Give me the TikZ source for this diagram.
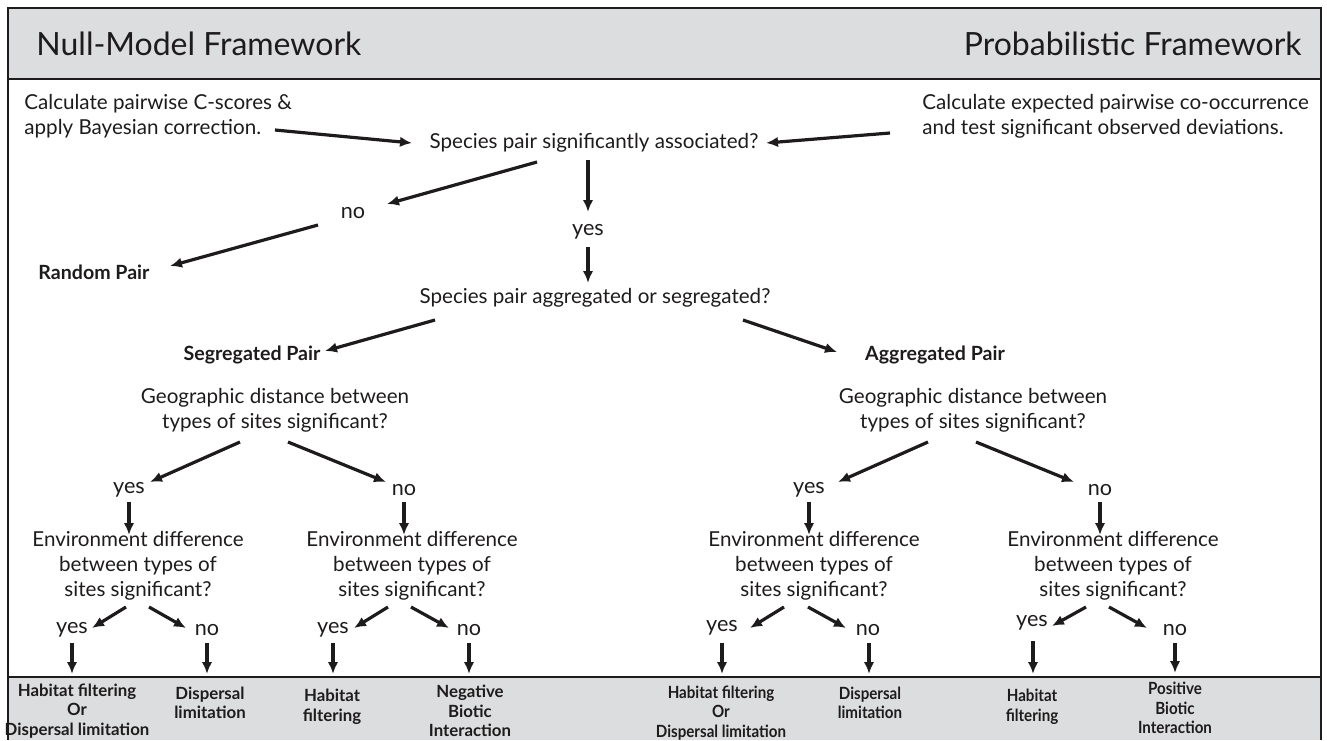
\documentclass[tikz,border=0pt]{standalone}
\usepackage{fontspec}
\setmainfont{Lato}
\usetikzlibrary{arrows.meta,calc,positioning}
\definecolor{bandgray}{RGB}{220,221,222}
\definecolor{inkgray}{RGB}{30,27,28}
\tikzset {
    style H/.style={
        font=\fontsize{16}{19}\selectfont,
        text=inkgray,
        inner sep=0pt,
    },
    style T/.style={
        font=\fontsize{10.3}{12.5}\selectfont,
        text=inkgray,
        align=center,
        inner sep=0pt,
    },
    style L/.style={
        font=\fontsize{10.8}{12}\selectfont,
        text=inkgray,
        inner sep=0pt,
    },
    style P/.style={
        font=\fontsize{9.8}{11}\selectfont\bfseries,
        text=inkgray,
        inner sep=0pt,
    },
    style R/.style={
        font=\fontsize{8.4}{9.8}\selectfont\bfseries,
        text=inkgray,
        align=center,
        inner sep=0pt,
    },
    link/.style={
        draw=inkgray,
        line width=1.6pt,
        -{Latex[length=6pt,width=5.2pt]},
    },
}
\begin{document}
\begin{tikzpicture}[x=0.5pt, y=-0.5pt]
\useasboundingbox (0,0) rectangle (1327,740);

% frame and bands
\fill[bandgray] (8,8) rectangle (1321,79);
\fill[bandgray] (8,677) rectangle (1321,740);
\draw[inkgray, line width=0.8pt] (8,79) -- (1321,79);
\draw[inkgray, line width=0.8pt] (8,677) -- (1321,677);
\draw[inkgray, line width=1pt] (8,740) -- (8,8) -- (1321,8) -- (1321,740);

\node[style H, anchor=west] at (36,44) (hdrL) {Null-Model Framework};
\node[style H, anchor=east] at (1302,44) (hdrR) {Probabilistic Framework};

% top of the tree
\node[style T, anchor=west, align=left] at (24,116) (calcC) {Calculate pairwise C-scores \&\\apply Bayesian correction.};
\node[style T, anchor=west, align=left] at (922,116) (calcP) {Calculate expected pairwise co-occurrence\\and test significant observed deviations.};
\node[style T] at (594,143) (sigq) {Species pair significantly associated?};
\node[style L] at (353,213) (noA) {no};
\node[style L] at (588,232) (yesA) {yes};
\node[style P, anchor=west] at (38,272) (rand) {Random Pair};
\node[style T] at (595,298) (aggq) {Species pair aggregated or segregated?};
\node[style P] at (252,355) (segP) {Segregated Pair};
\node[style P] at (935,355) (aggP) {Aggregated Pair};

\draw[link] ($(calcC.west)+(251,14)$) -- ($(sigq)+(-182,0)$);
\draw[link] ($(calcP.west)+(-32,17)$) -- ($(sigq)+(172,0)$);
\draw[link] ($(sigq)+(-57,19)$) -- ($(noA)+(34,-9)$);
\draw[link] ($(sigq)+(-6,17)$) -- ($(yesA)+(0,-20)$);
\draw[link] ($(noA)+(-35,12)$) -- ($(rand.west)+(132,-6)$);
\draw[link] ($(yesA)+(0,15)$) -- ($(aggq)+(-7,-15)$);
\draw[link] ($(aggq)+(-160,22)$) -- ($(segP)+(73,-4)$);
\draw[link] ($(aggq)+(148,22)$) -- ($(aggP)+(-98,-3)$);

% segregated side
\node[style T] at (275,410) (geoS) {Geographic distance between\\types of sites significant?};
\node[style L] at (129,490) (ysS) {yes};
\node[style L] at (404,490) (nS) {no};
\node[style T] at (138,566) (envSY) {Environment difference\\between types of\\sites significant?};
\node[style T] at (412,566) (envSN) {Environment difference\\between types of\\sites significant?};
\node[style L] at (72,630) (y1) {yes};
\node[style L] at (207,630) (n1) {no};
\node[style L] at (333,630) (y2) {yes};
\node[style L] at (469,630) (n2) {no};
\node[style R] at (77,711) (r1) {Habitat filtering\\Or\\Dispersal limitation};
\node[style R] at (210,703) (r2) {Dispersal\\limitation};
\node[style R] at (332,707) (r3) {Habitat\\filtering};
\node[style R] at (470,711) (r4) {Negative\\Biotic\\Interaction};

\draw[link] ($(geoS)+(-35,32)$) -- ($(ysS)+(21,-8)$);
\draw[link] ($(geoS)+(13,32)$) -- ($(nS)+(-18,-8)$);
\draw[link] ($(ysS)+(0,12)$) -- ($(envSY)+(-9,-31)$);
\draw[link] ($(nS)+(0,12)$) -- ($(envSN)+(-8,-31)$);
\draw[link] ($(envSY)+(-12,41)$) -- ($(y1)+(20,-2)$);
\draw[link] ($(envSY)+(11,41)$) -- ($(n1)+(-21,-2)$);
\draw[link] ($(envSN)+(-24,41)$) -- ($(y2)+(21,-2)$);
\draw[link] ($(envSN)+(-1,41)$) -- ($(n2)+(-20,-2)$);
\draw[link] ($(y1)+(0,13)$) -- ($(r1)+(-5,-37)$);
\draw[link] ($(n1)+(0,13)$) -- ($(r2)+(-3,-29)$);
\draw[link] ($(y2)+(0,13)$) -- ($(r3)+(1,-33)$);
\draw[link] ($(n2)+(0,13)$) -- ($(r4)+(-1,-37)$);

% aggregated side
\node[style T] at (973,410) (geoA) {Geographic distance between\\types of sites significant?};
\node[style L] at (809,490) (ysA) {yes};
\node[style L] at (1100,490) (nA) {no};
\node[style T] at (814,566) (envAY) {Environment difference\\between types of\\sites significant?};
\node[style T] at (1113,566) (envAN) {Environment difference\\between types of\\sites significant?};
\node[style L] at (722,628) (y3) {yes};
\node[style L] at (868,630) (n3) {no};
\node[style L] at (1032,623) (y4) {yes};
\node[style L] at (1175,630) (n4) {no};
\node[style R, xscale=0.9, transform shape] at (721,713) (r5) {Habitat filtering\\Or\\Dispersal limitation};
\node[style R, xscale=0.9, transform shape] at (870,703) (r6) {Dispersal\\limitation};
\node[style R, xscale=0.9, transform shape] at (1032,707) (r7) {Habitat\\filtering};
\node[style R, xscale=0.9, transform shape] at (1175,708) (r8) {Positive\\Biotic\\Interaction};

\draw[link] ($(geoA)+(-45,32)$) -- ($(ysA)+(29,-8)$);
\draw[link] ($(geoA)+(3,32)$) -- ($(nA)+(-26,-8)$);
\draw[link] ($(ysA)+(0,12)$) -- ($(envAY)+(-5,-31)$);
\draw[link] ($(nA)+(0,12)$) -- ($(envAN)+(-13,-31)$);
\draw[link] ($(envAY)+(-30,41)$) -- ($(y3)+(28,0)$);
\draw[link] ($(envAY)+(-6,41)$) -- ($(n3)+(-22,-2)$);
\draw[link] ($(envAN)+(-27,41)$) -- ($(y4)+(20,3)$);
\draw[link] ($(envAN)+(-4,41)$) -- ($(n4)+(-28,-2)$);
\draw[link] ($(y3)+(0,15)$) -- ($(r5)+(1,-39)$);
\draw[link] ($(n3)+(1,13)$) -- ($(r6)+(-1,-29)$);
\draw[link] ($(y4)+(1,18)$) -- ($(r7)+(1,-33)$);
\draw[link] ($(n4)+(0,13)$) -- ($(r8)+(0,-35)$);
\end{tikzpicture}
\end{document}
